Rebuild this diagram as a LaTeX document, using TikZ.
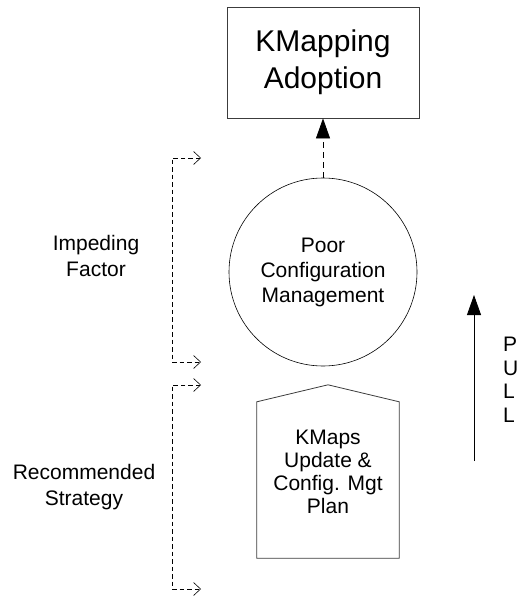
\documentclass[tikz,border=0pt]{standalone}
\usepackage{fontspec}
\setmainfont{Liberation Sans}
\usetikzlibrary{positioning,arrows.meta,calc}
\definecolor{EdgeGray}{HTML}{3C3C3C}

\begin{document}
\begin{tikzpicture}[
        x=1pt, y=-1pt,
        goalbox/.style={
            draw=EdgeGray,
            line width=0.8pt,
            align=center,
            font=\fontsize{30}{37}\selectfont,
            minimum width=192pt,
            minimum height=111pt,
            inner sep=0pt
        },
        factor/.style={
            circle,
            draw=black,
            line width=0.6pt,
            align=center,
            font=\fontsize{21}{25}\selectfont,
            minimum size=188pt,
            inner sep=0pt
        },
        strategy/.style={
            align=center,
            font=\fontsize{21}{23}\selectfont,
            minimum width=142pt,
            minimum height=173pt,
            inner sep=0pt
        },
        lbl/.style={align=center, font=\fontsize{21}{26}\selectfont},
        brace/.style={
            draw=black, line width=0.6pt,
            dash pattern=on 4.5pt off 3pt,
            {Straight Barb[length=7pt,width=13pt]}-{Straight Barb[length=7pt,width=13pt]}
        },
        arr/.style={-{Triangle[length=20pt,width=14pt]}, line width=0.8pt, black}
    ]
        \useasboundingbox (0,0) rectangle (519,599);

        \node[goalbox] (adopt) at (323,62.5) {KMapping\\Adoption};
        \node[factor] (poor) at (323,272) {Poor\\Configuration\\Management};
        \node[strategy] (plan) at (328,471.5) {KMaps\\Update \&\\Config. Mgt\\Plan};
        \draw[line width=0.8pt, EdgeGray] (plan.south west) -- ([yshift=-17pt]plan.north west)
            -- (plan.north) -- ([yshift=-17pt]plan.north east) -- (plan.south east) -- cycle;

        \draw[arr, dash pattern=on 6pt off 4pt] (poor.north) -- (adopt.south);

        % brackets on the left
        \coordinate (imptop) at (201,158);
        \coordinate (impbot) at (201,362);
        \coordinate (rectop) at (201,385);
        \coordinate (recbot) at (201,589);
        \draw[brace] (imptop) -- ++(-29,0) |- (impbot);
        \draw[brace] (rectop) -- ++(-29,0) |- (recbot);
        \node[lbl] (imp) at (96,256) {Impeding\\Factor};
        \node[lbl] (rec) at (84,487) {Recommended\\Strategy};

        % pull arrow
        \coordinate (pullfoot) at (474,461);
        \coordinate (pullhead) at (474,295);
        \draw[arr] (pullfoot) -- (pullhead);
        \node[align=left, anchor=west, inner sep=0pt,
              font=\fontsize{21}{23.5}\selectfont] (pull) at (503,380) {P\\U\\L\\L};
    \end{tikzpicture}
\end{document}
